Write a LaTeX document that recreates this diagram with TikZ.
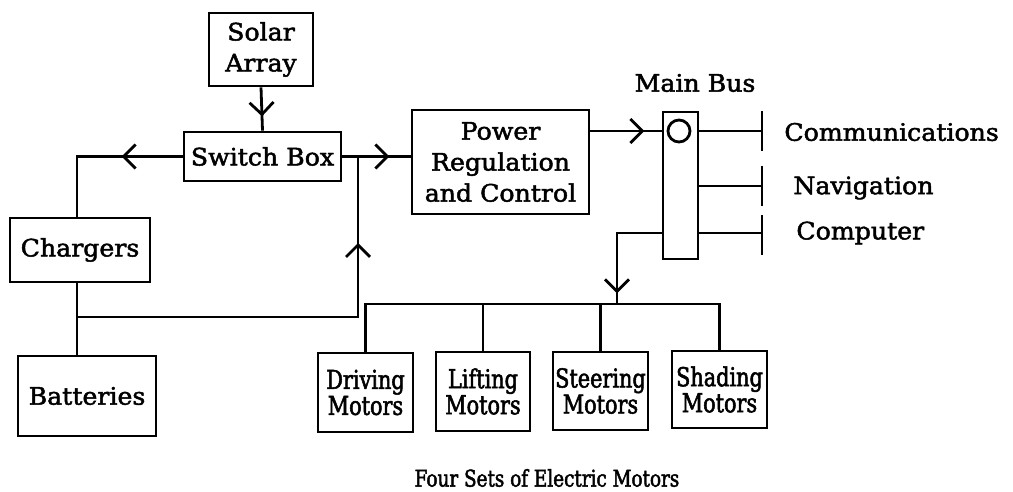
\documentclass[tikz,border=0pt]{standalone}
\usepackage{fontspec}
\setmainfont{DejaVu Serif}[FakeStretch=1.05,FakeBold=2]
\newfontfamily\narrowfont{DejaVu Serif}[FakeStretch=0.8,FakeBold=2]
\usetikzlibrary{arrows.meta,decorations.markings}
\begin{document}
\begin{tikzpicture}[x=1pt,y=-1pt,line width=2.8pt,
  box/.style={draw,line width=2.8pt,inner sep=0pt,align=center,font=\fontsize{24}{31}\selectfont},
  motorbox/.style={box,minimum width=95pt,font=\narrowfont\fontsize{26}{26}\selectfont},
  lbl/.style={inner sep=0pt,font=\fontsize{24}{31}\selectfont},
  midarr/.style={postaction={decorate,decoration={markings,mark=at position #1 with {\arrow{Straight Barb[length=12pt,width=24pt]}}}}}]
\useasboundingbox (0,0) rectangle (1013,492);

% boxes
\node[box,minimum width=104pt,minimum height=73pt] (solar) at (261,49.5) {Solar\\Array};
\node[box,minimum width=157pt,minimum height=49pt] (switch) at (262.5,156.5) {Switch Box};
\node[box,minimum width=140pt,minimum height=64pt] (chargers) at (80,250) {Chargers};
\node[box,minimum width=138pt,minimum height=80pt] (batteries) at (87,396) {Batteries};
\node[box,minimum width=177pt,minimum height=104pt] (power) at (500.5,162) {Power\\Regulation\\and Control};
\node[draw,minimum width=35pt,minimum height=147pt,inner sep=0pt] (bus) at (680.5,185.5) {};
\node[draw,circle,minimum size=22pt,inner sep=0pt] (circ) at (679,131) {};
\node[lbl] (mainbus) at (695,83) {Main Bus};

\node[motorbox,minimum height=79pt] (drive) at (365.5,392.5) {Driving\\Motors};
\node[motorbox,minimum height=79pt,minimum width=94pt] (lift) at (483,391.5) {Lifting\\Motors};
\node[motorbox,minimum height=78pt] (steer) at (600.5,391) {Steering\\Motors};
\node[motorbox,minimum height=77pt] (shade) at (719.5,389.5) {Shading\\Motors};
\node[inner sep=0pt,font=\narrowfont\fontsize{23}{26}\selectfont] (caption) at (547,478) {Four Sets of Electric Motors};

% helper coordinates
\coordinate (cb) at (77,317);
\coordinate (sv) at (358,317);
\coordinate (tcomm) at (762,131);
\coordinate (tnav) at (762,186);
\coordinate (tcomp) at (762,233);
\coordinate (dist) at (617,304);

% connectors
\draw[midarr=29pt] (solar.south) -- (switch.north);
\draw[midarr=61pt] (switch.west) -- (switch.west -| cb) -- (chargers.north -| cb);
\draw[midarr=47pt] (switch.east) -- (switch.east -| power.west);
\draw (chargers.south -| cb) -- (batteries.north -| cb);
\draw[midarr=355pt] (cb) -- (sv) -- (sv |- switch.east);
\draw[midarr=54pt] (power.east |- circ) -- (bus.west |- circ);

% bus outputs
\draw (bus.east |- tcomm) -- (tcomm);
\draw ([yshift=20pt]tcomm) -- ([yshift=-20pt]tcomm);
\draw (bus.east |- tnav) -- (tnav);
\draw ([yshift=20pt]tnav) -- ([yshift=-20pt]tnav);
\draw (bus.east |- tcomp) -- (tcomp);
\draw ([yshift=18pt]tcomp) -- ([yshift=-22pt]tcomp);
\node[lbl,anchor=west] (comm) at (783,132) {Communications};
\node[lbl,anchor=west] (nav) at (792,188) {Navigation};
\node[lbl,anchor=west] (comp) at (795,233) {Computer};

% motors distribution
\draw[midarr=105pt] (bus.west |- tcomp) -- (dist |- tcomp) -- (dist);
\draw (drive.north) -- (drive.north |- dist) -- (shade.north |- dist) -- (shade.north);
\draw (lift.north |- dist) -- (lift.north);
\draw (steer.north |- dist) -- (steer.north);
\end{tikzpicture}
\end{document}
